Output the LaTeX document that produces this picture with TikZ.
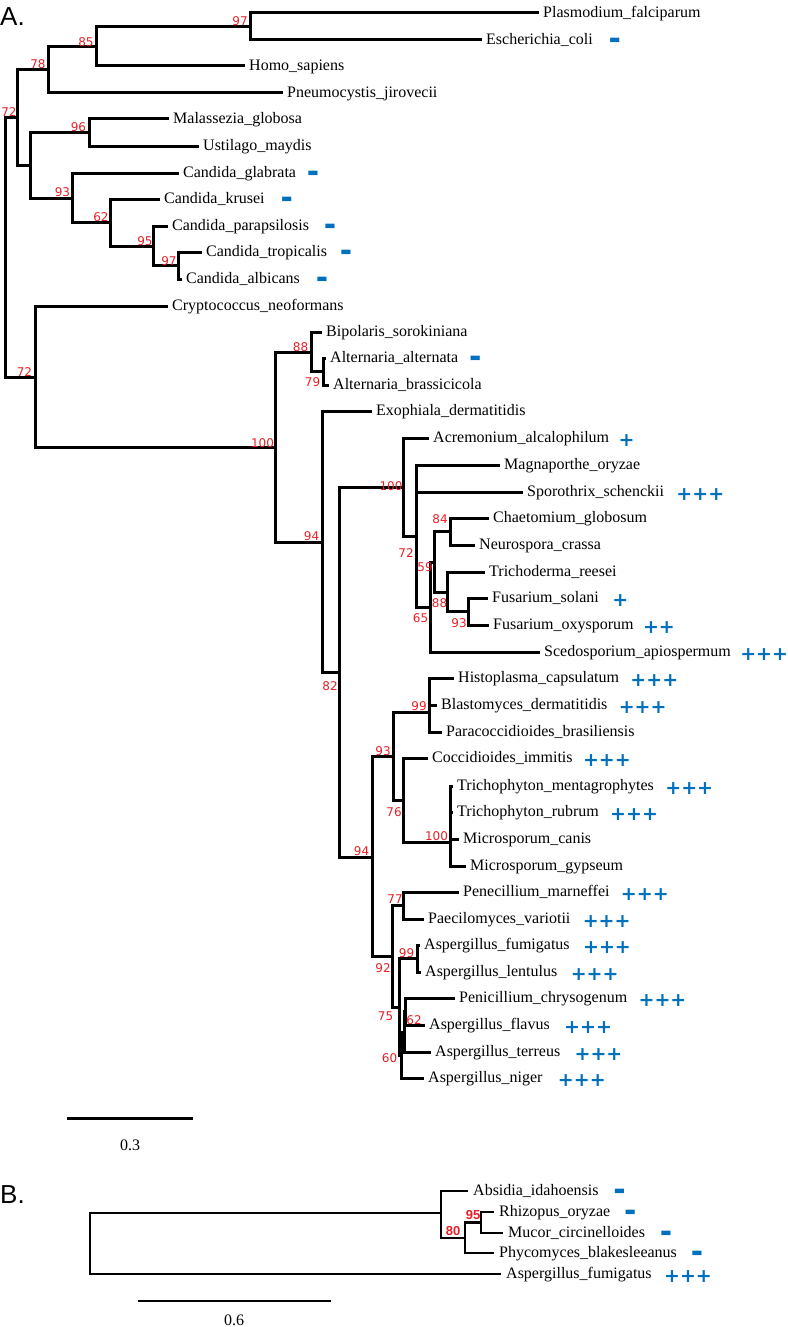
\documentclass[tikz,border=0pt]{standalone}
\usepackage{fontspec}
\setmainfont{Liberation Serif}
\newfontfamily\labfont{DejaVu Sans}
\newfontfamily\headfont{Liberation Sans}
\usetikzlibrary{calc}
\definecolor{bsred}{RGB}{232,32,38}
\definecolor{mkblue}{RGB}{0,112,190}
\tikzset{
  br/.style={line width=3pt, line cap=rect, black},
  brb/.style={line width=2.4pt, line cap=rect, black},
  tip/.style={anchor=west, inner sep=0pt, xshift=6pt, text height=12pt, text depth=3pt, font=\fontsize{16}{19}\selectfont},
  bs/.style={text=bsred, inner sep=0pt, font=\labfont\fontsize{12}{14}\selectfont},
  bsb/.style={text=bsred, inner sep=0pt, font=\headfont\bfseries\fontsize{13}{14}\selectfont},
  plusmk/.style={anchor=base west, inner sep=0pt, text=mkblue, font=\labfont\bfseries\fontsize{19}{19}\selectfont},
  minusmk/.style={anchor=west, inner sep=0pt, text=mkblue, font=\labfont\fontsize{12}{12}\selectfont},
  head/.style={anchor=base west, inner sep=0pt, font=\headfont\fontsize{26}{26}\selectfont},
  scl/.style={inner sep=0pt, font=\fontsize{16}{19}\selectfont}
}
\begin{document}
\begin{tikzpicture}[x=1pt,y=-1pt]
\useasboundingbox (0,0) rectangle (787,1327);
% ---------- panel A: tips ----------
\coordinate (t1) at (537,13);
\coordinate (t2) at (480,40);
\coordinate (t3) at (243,66);
\coordinate (t4) at (281,93);
\coordinate (t5) at (167,119);
\coordinate (t6) at (197,146);
\coordinate (t7) at (177,173);
\coordinate (t8) at (158,199);
\coordinate (t9) at (166,226);
\coordinate (t10) at (200,252);
\coordinate (t11) at (180,279);
\coordinate (t12) at (166,306);
\coordinate (t13) at (320,332);
\coordinate (t14) at (324,358);
\coordinate (t15) at (327,385);
\coordinate (t16) at (370,411);
\coordinate (t17) at (427,438);
\coordinate (t18) at (498,465);
\coordinate (t19) at (521,492);
\coordinate (t20) at (487,518);
\coordinate (t21) at (473,545);
\coordinate (t22) at (483,572);
\coordinate (t23) at (486,598);
\coordinate (t24) at (487,625);
\coordinate (t25) at (538,652);
\coordinate (t26) at (452,678);
\coordinate (t27) at (435,705);
\coordinate (t28) at (440,732);
\coordinate (t29) at (426,758);
\coordinate (t30) at (451,786);
\coordinate (t31) at (451,812);
\coordinate (t32) at (457,839);
\coordinate (t33) at (464,866);
\coordinate (t34) at (457,892);
\coordinate (t35) at (422,919);
\coordinate (t36) at (418,945);
\coordinate (t37) at (419,972);
\coordinate (t38) at (453,998);
\coordinate (t39) at (423,1025);
\coordinate (t40) at (429,1052);
\coordinate (t41) at (422,1078);
% ---------- panel A: internal nodes ----------
\coordinate (R) at (5,247.5);
\coordinate (n72a) at (17,118);
\coordinate (n78) at (48,70);
\coordinate (n85) at (96,46.5);
\coordinate (n97a) at (250,26.5);
\coordinate (nU) at (30,165);
\coordinate (n96) at (89,132.5);
\coordinate (n93a) at (72,198);
\coordinate (n62a) at (110,222.5);
\coordinate (n95) at (153,246);
\coordinate (n97b) at (178,265.5);
\coordinate (n72b) at (35,377);
\coordinate (n100a) at (275,447);
\coordinate (n88a) at (311,352);
\coordinate (n79) at (323,371.5);
\coordinate (n94a) at (322,542);
\coordinate (n82) at (339,672);
\coordinate (n100b) at (403,487.5);
\coordinate (n72c) at (416,536);
\coordinate (n65) at (430,607);
\coordinate (n59) at (434,562);
\coordinate (n84) at (450,531.5);
\coordinate (n88b) at (447,592);
\coordinate (n93b) at (468,611.5);
\coordinate (n94b) at (372,857);
\coordinate (n93c) at (393,756);
\coordinate (n99a) at (429,712);
\coordinate (nHB) at (429,691.5);
\coordinate (n76) at (403,800);
\coordinate (n100c) at (450,842.5);
\coordinate (nI2) at (450,819);
\coordinate (nI1) at (450,799);
\coordinate (n92) at (392,956);
\coordinate (n77) at (403,905.5);
\coordinate (n75) at (399,1007);
\coordinate (n99b) at (417,958.5);
\coordinate (n60) at (401,1055.5);
\coordinate (n62b) at (404,1032);
\coordinate (nI3) at (405,1011.5);
% ---------- panel A: branches ----------
\foreach \a/\b in {R/n72a, R/n72b, n72a/n78, n72a/nU, n78/n85, n78/t4, n85/n97a, n85/t3,
  n97a/t1, n97a/t2, nU/n96, nU/n93a, n96/t5, n96/t6, n93a/t7, n93a/n62a, n62a/t8, n62a/n95,
  n95/t9, n95/n97b, n97b/t10, n97b/t11, n72b/t12, n72b/n100a, n100a/n88a, n100a/n94a,
  n88a/t13, n88a/n79, n79/t14, n79/t15, n94a/t16, n94a/n82, n82/n100b, n82/n94b,
  n100b/t17, n100b/n72c, n72c/t18, n72c/t19, n72c/n65, n65/n59, n65/t25, n59/n84, n59/n88b,
  n84/t20, n84/t21, n88b/t22, n88b/n93b, n93b/t23, n93b/t24, n94b/n93c, n94b/n92,
  n93c/n99a, n93c/n76, n99a/nHB, n99a/t28, nHB/t26, nHB/t27, n76/t29, n76/n100c,
  n100c/nI2, n100c/t33, nI2/nI1, nI2/t32, nI1/t30, nI1/t31, n92/n77, n92/n75,
  n77/t34, n77/t35, n75/n99b, n75/n60, n99b/t36, n99b/t37, n60/n62b, n60/t41,
  n62b/nI3, n62b/t40, nI3/t38, nI3/t39}
  \draw[br] (\a) |- (\b);
% ---------- panel A: tip labels ----------
\node[tip] (L1) at (t1) {Plasmodium\_falciparum};
\node[tip] (L2) at (t2) {Escherichia\_coli};
\node[tip] (L3) at (t3) {Homo\_sapiens};
\node[tip] (L4) at (t4) {Pneumocystis\_jirovecii};
\node[tip] (L5) at (t5) {Malassezia\_globosa};
\node[tip] (L6) at (t6) {Ustilago\_maydis};
\node[tip] (L7) at (t7) {Candida\_glabrata};
\node[tip] (L8) at (t8) {Candida\_krusei};
\node[tip] (L9) at (t9) {Candida\_parapsilosis};
\node[tip] (L10) at (t10) {Candida\_tropicalis};
\node[tip] (L11) at (t11) {Candida\_albicans};
\node[tip] (L12) at (t12) {Cryptococcus\_neoformans};
\node[tip] (L13) at (t13) {Bipolaris\_sorokiniana};
\node[tip] (L14) at (t14) {Alternaria\_alternata};
\node[tip] (L15) at (t15) {Alternaria\_brassicicola};
\node[tip] (L16) at (t16) {Exophiala\_dermatitidis};
\node[tip] (L17) at (t17) {Acremonium\_alcalophilum};
\node[tip] (L18) at (t18) {Magnaporthe\_oryzae};
\node[tip] (L19) at (t19) {Sporothrix\_schenckii};
\node[tip] (L20) at (t20) {Chaetomium\_globosum};
\node[tip] (L21) at (t21) {Neurospora\_crassa};
\node[tip] (L22) at (t22) {Trichoderma\_reesei};
\node[tip] (L23) at (t23) {Fusarium\_solani};
\node[tip] (L24) at (t24) {Fusarium\_oxysporum};
\node[tip] (L25) at (t25) {Scedosporium\_apiospermum};
\node[tip] (L26) at (t26) {Histoplasma\_capsulatum};
\node[tip] (L27) at (t27) {Blastomyces\_dermatitidis};
\node[tip] (L28) at (t28) {Paracoccidioides\_brasiliensis};
\node[tip] (L29) at (t29) {Coccidioides\_immitis};
\node[tip] (L30) at (t30) {Trichophyton\_mentagrophytes};
\node[tip] (L31) at (t31) {Trichophyton\_rubrum};
\node[tip] (L32) at (t32) {Microsporum\_canis};
\node[tip] (L33) at (t33) {Microsporum\_gypseum};
\node[tip] (L34) at (t34) {Penecillium\_marneffei};
\node[tip] (L35) at (t35) {Paecilomyces\_variotii};
\node[tip] (L36) at (t36) {Aspergillus\_fumigatus};
\node[tip] (L37) at (t37) {Aspergillus\_lentulus};
\node[tip] (L38) at (t38) {Penicillium\_chrysogenum};
\node[tip] (L39) at (t39) {Aspergillus\_flavus};
\node[tip] (L40) at (t40) {Aspergillus\_terreus};
\node[tip] (L41) at (t41) {Aspergillus\_niger};
% ---------- panel A: markers ----------
\node[minusmk] (m2) at ($(L2.east)+(16,1)$) {▬};
\node[minusmk] (m7) at ($(L7.east)+(11,1)$) {▬};
\node[minusmk] (m8) at ($(L8.east)+(16,1)$) {▬};
\node[minusmk] (m9) at ($(L9.east)+(15,1)$) {▬};
\node[minusmk] (m10) at ($(L10.east)+(13,1)$) {▬};
\node[minusmk] (m11) at ($(L11.east)+(16,1)$) {▬};
\node[minusmk] (m14) at ($(L14.east)+(11,1)$) {▬};
\node[plusmk] (m17) at ($(L17.base east)+(9,4.3)$) {+};
\node[plusmk] (m19) at ($(L19.base east)+(12,4.3)$) {+++};
\node[plusmk] (m23) at ($(L23.base east)+(13,4.3)$) {+};
\node[plusmk] (m24) at ($(L24.base east)+(9,4.3)$) {++};
\node[plusmk] (m25) at ($(L25.base east)+(9,4.3)$) {+++};
\node[plusmk] (m26) at ($(L26.base east)+(11,4.3)$) {+++};
\node[plusmk] (m27) at ($(L27.base east)+(11,4.3)$) {+++};
\node[plusmk] (m29) at ($(L29.base east)+(10,4.3)$) {+++};
\node[plusmk] (m30) at ($(L30.base east)+(11,4.3)$) {+++};
\node[plusmk] (m31) at ($(L31.base east)+(11,4.3)$) {+++};
\node[plusmk] (m34) at ($(L34.base east)+(11,4.3)$) {+++};
\node[plusmk] (m35) at ($(L35.base east)+(12,4.3)$) {+++};
\node[plusmk] (m36) at ($(L36.base east)+(13,4.3)$) {+++};
\node[plusmk] (m37) at ($(L37.base east)+(13,4.3)$) {+++};
\node[plusmk] (m38) at ($(L38.base east)+(11,4.3)$) {+++};
\node[plusmk] (m39) at ($(L39.base east)+(14,4.3)$) {+++};
\node[plusmk] (m40) at ($(L40.base east)+(14,4.3)$) {+++};
\node[plusmk] (m41) at ($(L41.base east)+(15,4.3)$) {+++};
% ---------- panel A: support values ----------
\node[bs] (b1) at (240,21.5) {97};
\node[bs] (b2) at (86,42.5) {85};
\node[bs] (b3) at (38,64) {78};
\node[bs] (b4) at (9,112.5) {72};
\node[bs] (b5) at (78.5,127.5) {96};
\node[bs] (b6) at (62.5,192.5) {93};
\node[bs] (b7) at (101,217.5) {62};
\node[bs] (b8) at (145,241.5) {95};
\node[bs] (b9) at (169,261.5) {97};
\node[bs] (b10) at (24.5,372.5) {72};
\node[bs] (b11) at (300.5,347.5) {88};
\node[bs] (b12) at (312.5,382.5) {79};
\node[bs] (b13) at (262.5,443) {100};
\node[bs] (b14) at (311.5,536.5) {94};
\node[bs] (b15) at (391,486.5) {100};
\node[bs] (b16) at (406,553.5) {72};
\node[bs] (b17) at (440,519) {84};
\node[bs] (b18) at (425,567.5) {59};
\node[bs] (b19) at (439.5,603.5) {88};
\node[bs] (b20) at (420.5,618.5) {65};
\node[bs] (b21) at (459,623) {93};
\node[bs] (b22) at (330,686.5) {82};
\node[bs] (b23) at (419,706.5) {99};
\node[bs] (b24) at (383,751.5) {93};
\node[bs] (b25) at (394,812) {76};
\node[bs] (b26) at (436.5,836) {100};
\node[bs] (b27) at (361.5,851.5) {94};
\node[bs] (b28) at (395,899.5) {77};
\node[bs] (b29) at (406.5,953) {99};
\node[bs] (b30) at (383,968) {92};
\node[bs] (b31) at (385.5,1016.5) {75};
\node[bs] (b32) at (414,1020.5) {62};
\node[bs] (b33) at (389.5,1058) {60};
% ---------- panel headings ----------
\node[head] (hA) at (0,25.7) {A.};
\node[head] (hB) at (0,1203) {B.};
% ---------- scale bar A ----------
\coordinate (sa1) at (67,1118);
\coordinate (sa2) at (193,1118);
\draw[br, line cap=butt] (sa1) -- (sa2);
\node[scl] (sA) at (130,1145) {0.3};
% ---------- panel B ----------
\coordinate (bA) at (467,1191);
\coordinate (bR) at (493,1212);
\coordinate (bM) at (502,1233);
\coordinate (bP) at (493,1253);
\coordinate (bF) at (500,1274);
\coordinate (bRoot) at (90,1243.5);
\coordinate (b80) at (441,1213);
\coordinate (bX) at (465,1238);
\coordinate (b95) at (481,1222.5);
\foreach \a/\b in {bRoot/b80, bRoot/bF, b80/bA, b80/bX, bX/b95, bX/bP, b95/bR, b95/bM}
  \draw[brb] (\a) |- (\b);
\node[tip] (LB1) at (bA) {Absidia\_idahoensis};
\node[tip] (LB2) at (bR) {Rhizopus\_oryzae};
\node[tip] (LB3) at (bM) {Mucor\_circinelloides};
\node[tip] (LB4) at (bP) {Phycomyces\_blakesleeanus};
\node[tip] (LB5) at (bF) {Aspergillus\_fumigatus};
\node[minusmk] (mb1) at ($(LB1.east)+(15,1)$) {▬};
\node[minusmk] (mb2) at ($(LB2.east)+(14,1)$) {▬};
\node[minusmk] (mb3) at ($(LB3.east)+(15,1)$) {▬};
\node[minusmk] (mb4) at ($(LB4.east)+(14,1)$) {▬};
\node[plusmk] (mb5) at ($(LB5.base east)+(12,4.3)$) {+++};
\node[bsb] (bb1) at (473,1215) {95};
\node[bsb] (bb2) at (453,1231) {80};
\coordinate (sb1) at (137.5,1301);
\coordinate (sb2) at (331,1301);
\draw[brb, line cap=butt] (sb1) -- (sb2);
\node[scl] (sB) at (234,1320) {0.6};
\end{tikzpicture}
\end{document}
